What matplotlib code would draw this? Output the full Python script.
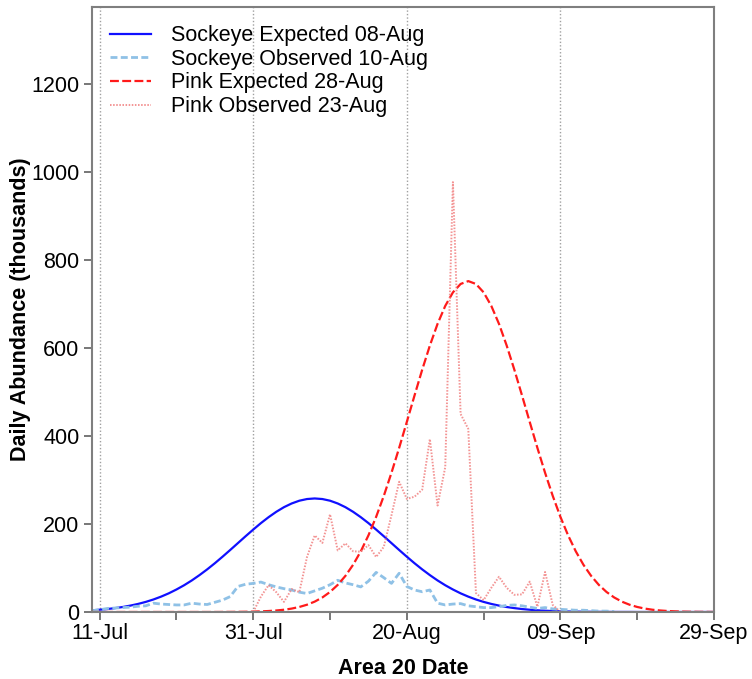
import matplotlib
matplotlib.use("Agg")
import matplotlib.pyplot as plt
import matplotlib.dates as mdates
import numpy as np
import pandas as pd

plt.rcParams['font.family'] = ['Liberation Sans', 'DejaVu Sans']

# daily values (thousands), each series starts on its own date
sock_exp_start = '2023-07-10'
sock_exp = [3.8, 5.1, 6.7, 8.8, 11.3, 14.5, 18.3, 22.9, 28.4, 34.9, 42.4, 51.1, 60.8, 71.7,
            83.8, 96.8, 110.8, 125.6, 140.9, 156.5, 172.1, 187.3, 202.0, 215.5, 227.7, 238.2,
            246.6, 252.9, 256.7, 258.0, 256.7, 252.9, 246.6, 238.2, 227.7, 215.5, 202.0, 187.3,
            172.1, 156.5, 140.9, 125.6, 110.8, 96.8, 83.8, 71.7, 60.8, 51.1, 42.4, 34.9, 28.4,
            22.9, 18.3, 14.5, 11.3, 8.8, 6.7, 5.1, 3.8, 2.9, 2.1, 1.5, 1.1, 0.8, 0.6, 0.4, 0.3,
            0.2, 0.1, 0.1, 0.1, 0, 0, 0, 0, 0, 0, 0, 0, 0, 0, 0]

sock_obs_start = '2023-07-10'
sock_obs = [3, 5, 8, 9, 10, 11, 13, 14, 20, 18, 17, 16, 16, 20, 18, 17, 22, 27, 35, 58,
            63, 65, 68, 62, 57, 53, 50, 45, 42, 48, 54, 62, 72, 66, 62, 57, 70, 90, 78, 65,
            88, 58, 50, 46, 50, 20, 16, 18, 19, 14, 12, 10, 10, 12, 15, 16, 14, 11, 8, 10,
            7, 6, 5, 4, 4, 3, 2, 2, 1]

pink_exp_start = '2023-07-10'
pink_exp = [0, 0, 0, 0, 0, 0, 0, 0, 0, 0, 0, 0, 0, 0, 0, 0, 0, 0.1, 0.2, 0.3, 0.5, 0.8,
            1.4, 2.2, 3.4, 5.1, 7.7, 11.4, 16.5, 23.5, 33.0, 45.5, 61.6, 82.0, 107.2, 137.8,
            174.1, 216.1, 263.8, 316.4, 373.0, 432.1, 492.0, 550.6, 605.6, 654.8, 695.6,
            726.4, 745.5, 752.0, 745.5, 726.4, 695.6, 654.8, 605.6, 550.6, 492.0, 432.1,
            373.0, 316.4, 263.8, 216.1, 174.1, 137.8, 107.2, 82.0, 61.6, 45.5, 33.0, 23.5,
            16.5, 11.4, 7.7, 5.1, 3.4, 2.2, 1.4, 0.8, 0.5, 0.3, 0.2, 0.1]

pink_obs_start = '2023-07-31'
pink_obs = [0, 35, 61, 45, 23, 52, 45, 125, 174, 157, 222, 140, 156, 138, 137, 152, 125,
            148, 220, 296, 257, 262, 278, 393, 242, 329, 977, 450, 416, 43, 27, 55, 80, 55,
            39, 40, 69, 12, 91, 16, 0]

labels = ['Sockeye Expected 08-Aug', 'Sockeye Observed 10-Aug',
          'Pink Expected 28-Aug', 'Pink Observed 23-Aug']
x_ticks = ['2023-07-11', '2023-07-31', '2023-08-20', '2023-09-09', '2023-09-29']
x_minor = ['2023-07-21', '2023-08-10', '2023-08-30', '2023-09-19']
y_ticks = [0, 200, 400, 600, 800, 1000, 1200]


def days(start, vals):
    return pd.date_range(start, periods=len(vals), freq='D')


fs = 15.5
fig = plt.figure(figsize=(7.52, 6.79), dpi=100)
ax = fig.add_axes([0.1223, 0.0987, 0.8272, 0.8910])

for d in x_ticks[:-1]:
    ax.axvline(pd.Timestamp(d), color='#a0a0a0', lw=1, ls=(0, (1, 1.5)), zorder=0)

ax.plot(days(sock_exp_start, sock_exp), sock_exp, color='#1010ff', lw=1.6, label=labels[0])
ax.plot(days(sock_obs_start, sock_obs), sock_obs, color='#8fc1e6', lw=2,
        ls=(0, (2.5, 1.2)), label=labels[1])
ax.plot(days(pink_exp_start, pink_exp), pink_exp, color='#ff1a1a', lw=1.6,
        ls=(0, (4, 1.5)), label=labels[2])
ax.plot(days(pink_obs_start, pink_obs), pink_obs, color='#f07a7a', lw=1.4,
        ls=(0, (0.8, 0.8)), alpha=0.8, label=labels[3])

ax.set_xlim(pd.Timestamp('2023-07-10'), pd.Timestamp('2023-09-29'))
ax.set_ylim(0, 1375)
ax.set_xticks([pd.Timestamp(d) for d in x_ticks])
ax.set_xticks([pd.Timestamp(d) for d in x_minor], minor=True)
ax.xaxis.set_major_formatter(mdates.DateFormatter('%d-%b'))
ax.set_yticks(y_ticks)

for s in ax.spines.values():
    s.set_color('#7f7f7f')
    s.set_linewidth(1.5)
ax.tick_params(axis='both', which='both', direction='out', length=6, width=1.2,
               color='#606060', labelsize=fs, labelcolor='black')
ax.tick_params(axis='x', pad=2)
ax.tick_params(axis='y', pad=3)

ax.set_xlabel('Area 20 Date', fontsize=fs, fontweight='bold', labelpad=10)
ax.set_ylabel('Daily Abundance (thousands)', fontsize=fs, fontweight='bold', labelpad=0)

ax.legend(loc='upper left', bbox_to_anchor=(0.0, 1.0), frameon=False, fontsize=fs,
          labelspacing=0.12, handlelength=1.9, handletextpad=0.9, borderaxespad=0.45)

fig.savefig('out.png', dpi=100)
